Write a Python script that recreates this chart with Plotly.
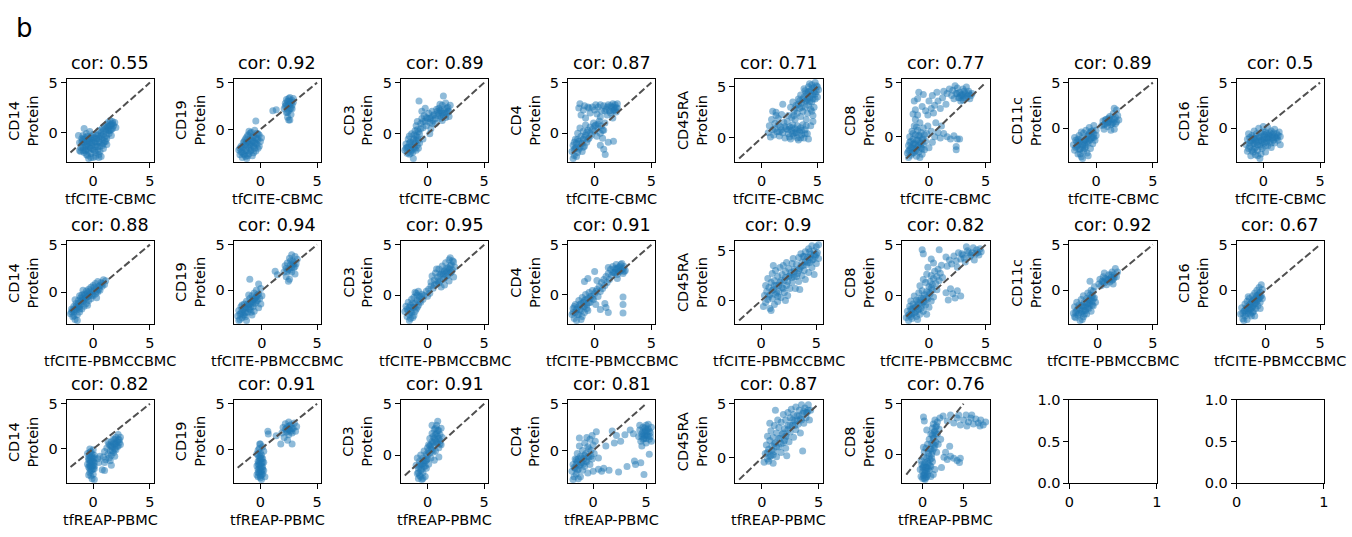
import plotly.graph_objects as go

W, H = 1352, 537
FONT = "DejaVu Sans"
BLUE = "#1f77b4"

MARKERS = ["CD14", "CD19", "CD3", "CD4", "CD45RA", "CD8", "CD11c", "CD16"]
SOURCES = ["tfCITE-CBMC", "tfCITE-PBMCCBMC", "tfREAP-PBMC"]
COR_R1 = [0.55, 0.92, 0.89, 0.87, 0.71, 0.77, 0.89, 0.5]
COR_R2 = [0.88, 0.94, 0.95, 0.91, 0.9, 0.82, 0.92, 0.67]
COR_R3 = [0.82, 0.91, 0.91, 0.81, 0.87, 0.76]
DIAG = [-2, 5]
TICKS = [0, 5]
EMPTY_XTICKS = [0, 1]
EMPTY_YTICKS = [0.0, 0.5, 1.0]

# ---------------- Row 1: tfCITE-CBMC ----------------
R1_CD14 = [(-1.2,-1.0),(-1.1,-1.5),(-1.0,-0.6),(-1.0,-1.2),(-0.9,-1.8),(-0.9,-0.3),(-0.8,-1.0),(-0.8,-2.0),(-0.7,-0.5),(-0.7,-1.4),
           (-0.6,-0.1),(-0.6,-0.9),(-0.6,-1.7),(-0.5,-2.3),(-0.5,-0.4),(-0.5,-1.2),(-0.4,-0.7),(-0.4,-1.9),(-0.3,0.1),(-0.3,-1.0),
           (-0.3,-1.5),(-0.2,-0.4),(-0.2,-2.1),(-0.1,-0.8),(-0.1,-1.3),(0.0,-0.2),(0.0,-1.7),(0.1,-1.0),(0.1,-0.5),(0.2,-1.4),
           (0.2,-2.4),(-0.4,-2.6),(0.0,-2.5),(-1.3,-0.3),(-0.8,0.4),(-1.2,-1.8),
           (0.3,-0.6),(0.3,-1.2),(0.4,-0.2),(0.4,-1.8),(0.5,-0.9),(0.5,0.2),(0.6,-0.4),(0.6,-1.4),(0.7,0.0),(0.7,-2.4),
           (0.8,-0.7),(0.8,0.4),(0.9,-0.2),(0.9,-1.1),(1.0,0.6),(1.0,-0.5),(1.1,0.1),(1.1,-0.9),(1.2,0.8),(1.2,-0.3),
           (1.3,0.3),(1.3,1.0),(1.4,-0.1),(1.4,0.6),(1.5,1.2),(1.5,0.2),(1.6,0.8),(1.6,-0.3),(1.7,0.4),(1.7,1.1),
           (1.8,0.7),(0.5,-2.2),(0.9,-1.6),(1.2,-1.2),(1.9,1.0),(2.0,0.5),
           (-1.0,-0.9),(-0.9,-1.5),(-0.8,-0.7),(-0.7,-1.8),(-0.6,-1.3),(-0.5,-0.8),(-0.4,-1.4),(-0.3,-0.6),(-0.2,-1.6),(-0.1,-1.0),
           (0.0,-0.6),(0.1,-1.8),(0.2,-0.9),(0.3,-0.3),(0.4,-1.4),(0.5,-0.6),(0.6,-1.0),(0.7,-0.3),(0.8,-1.3),(0.9,0.2),
           (1.0,-0.9),(1.1,0.4),(1.2,-0.6),(1.3,0.6),(1.4,0.2),(1.5,0.7),(1.6,0.3),(1.7,0.9),(-0.9,-0.7),(-0.6,-2.2),
           (0.2,-2.0),(0.6,-1.9),(-1.1,-1.9),(-0.2,-2.5),(0.5,-2.5)]
R1_CD19 = [(-1.9,-2.2),(-1.8,-2.7),(-1.7,-1.8),(-1.6,-2.4),(-1.6,-3.0),(-1.5,-1.4),(-1.5,-2.0),(-1.4,-2.7),(-1.3,-1.0),(-1.3,-1.7),
           (-1.2,-2.3),(-1.2,-3.1),(-1.1,-1.3),(-1.1,-0.6),(-1.0,-2.0),(-1.0,-2.6),(-0.9,-1.0),(-0.9,-1.6),(-0.8,-0.3),(-0.8,-2.2),
           (-0.7,-1.2),(-0.7,-2.8),(-0.6,-0.7),(-0.6,-1.8),(-0.5,-0.1),(-0.5,-1.4),(-0.4,-2.3),(-0.4,-0.9),(-0.3,-1.6),(-0.3,-0.4),
           (-0.2,-1.1),(-0.2,-2.0),(-0.1,-0.6),(0.0,-1.3),(0.1,-0.9),(-1.4,-1.2),(-1.0,-0.2),(-0.6,-2.5),(-1.7,-2.4),(-0.8,-1.4),
           (-1.8,-2.0),(-1.5,-2.6),(-1.4,-1.6),(-1.3,-2.2),(-1.2,-1.4),(-1.1,-2.8),(-1.0,-1.6),(-0.9,-2.3),(-0.8,-1.8),(-0.7,-0.8),
           (-0.6,-1.3),(-0.5,-2.0),(-0.4,-1.5),(-0.3,-1.0),(-0.2,-0.5),(-0.1,-1.8),(-1.6,-1.9),(-1.3,-2.9),(-0.9,-0.4),(-1.2,-0.8),
           (-0.4,0.9),(1.1,2.0),(1.4,2.1),(2.5,1.0),
           (2.1,2.2),(2.2,2.8),(2.3,1.8),(2.3,3.2),(2.4,2.5),(2.4,1.3),(2.5,3.0),(2.5,2.0),(2.6,2.7),(2.6,3.4),
           (2.7,2.3),(2.7,1.6),(2.8,3.1),(2.8,2.6),(2.9,2.9),(2.2,2.5),(2.6,1.0),(2.9,3.3),
           (2.3,2.6),(2.4,3.0),(2.5,2.6),(2.6,2.2),(2.7,2.9),(2.5,3.3),(2.8,2.2),(2.4,1.8)]
R1_CD3 = [(-2.0,-1.6),(-1.9,-1.0),(-1.8,-1.9),(-1.7,-0.5),(-1.7,-1.3),(-1.6,-2.0),(-1.5,-0.8),(-1.5,-1.5),(-1.4,0.0),(-1.4,-1.1),
          (-1.3,-1.8),(-1.2,-0.5),(-1.2,-1.3),(-1.1,0.3),(-1.1,-0.9),(-1.0,-1.6),(-1.0,-0.2),(-0.9,-1.1),(-0.9,0.4),(-0.8,-0.6),
          (-0.8,-1.4),(-0.7,0.0),(-0.7,-0.9),(-1.25,-2.4),(-1.6,-0.2),(-1.9,-1.4),
          (-1.8,-1.3),(-1.6,-0.9),(-1.4,-1.6),(-1.3,-0.8),(-1.1,-1.4),(-1.0,-0.6),(-0.9,-0.3),(-0.8,0.2),(-1.2,-0.1),(-1.5,-1.9),
          (-0.6,1.0),(-0.5,1.5),(-0.4,0.6),(-0.3,1.8),(-0.2,1.2),(-0.1,0.8),(0.0,1.5),(0.1,2.0),(0.2,1.1),(0.3,1.6),
          (0.4,2.2),(0.5,1.3),(0.6,1.9),(0.7,1.0),(-0.5,2.2),(-0.2,2.5),(0.3,0.5),(0.8,2.4),(-0.9,1.2),(-1.0,0.8),
          (-0.4,1.2),(-0.1,1.6),(0.2,1.5),(0.5,1.8),(0.7,1.5),(0.4,1.0),(-0.6,0.5),
          (0.9,1.8),(1.0,2.5),(1.1,1.5),(1.2,2.2),(1.3,2.8),(1.4,1.8),(1.5,2.4),(1.6,3.0),(1.7,2.0),(1.8,2.6),
          (1.9,2.2),(1.3,1.3),(1.6,1.6),(2.0,2.8),(1.1,2.9),(1.9,1.7),
          (1.0,2.0),(1.1,2.3),(1.3,2.0),(1.5,2.0),(1.7,2.5),(1.8,2.2),(1.2,1.7),(0.9,2.2),
          (-0.75,3.2),(1.4,3.7),(-0.4,-0.5),(0.2,0.0)]
R1_CD4 = [(-2.0,-1.8),(-1.9,-1.2),(-1.8,-2.2),(-1.7,-0.6),(-1.7,-1.5),(-1.6,-1.0),(-1.5,-1.9),(-1.5,0.0),(-1.4,-0.8),(-1.3,-1.4),
          (-1.3,0.5),(-1.2,-0.3),(-1.1,-1.0),(-1.1,-1.8),(-1.0,0.2),(-1.0,-0.6),(-0.9,-1.3),(-0.8,0.8),(-0.8,-0.2),(-0.7,-0.9),
          (-0.6,0.3),(-0.5,-0.5),(-0.4,0.6),(-0.3,-0.2),(-0.2,0.4),(-0.1,1.0),(-1.9,-2.5),(-1.6,-2.3),
          (-1.8,-1.6),(-1.6,-1.4),(-1.5,-0.6),(-1.4,-1.6),(-1.2,-1.0),(-1.0,-1.4),(-0.9,-0.4),(-0.7,0.1),(-0.6,-0.6),(-0.4,0.0),
          (-1.8,-0.9),
          (0.0,0.2),(0.1,0.8),(0.2,-0.3),(0.3,0.5),(0.4,1.2),(0.5,0.0),(0.6,0.7),(0.7,-0.5),(0.8,0.3),(0.9,1.0),
          (0.5,1.6),(0.2,1.9),(0.3,0.9),(0.7,0.3),(0.0,0.7),
          (-1.4,2.5),(-1.2,1.8),(-1.0,2.3),(-0.8,1.5),(-0.6,2.6),(-0.4,2.0),(-0.2,2.6),(0.0,2.3),(0.3,2.6),(0.6,2.2),
          (0.8,2.7),(1.0,2.4),(1.2,2.8),(1.3,2.2),(1.5,2.6),(1.6,2.9),(1.7,2.3),(1.8,2.8),(1.9,2.5),(2.0,2.9),
          (1.1,1.8),(1.4,2.0),(1.6,1.5),(1.9,2.1),
          (-1.3,2.9),(-0.9,2.7),(-0.5,2.5),(0.1,2.8),(0.5,2.8),(0.9,2.2),(1.1,2.6),(1.4,2.7),(1.7,2.6),(1.8,2.3),
          (2.0,2.5),(1.6,2.2),
          (0.8,-1.6),(0.93,-2.1),(1.66,-0.8),(1.2,-0.9),(0.5,-1.2)]
R1_CD45RA = [(2.4,2.2),(2.6,3.0),(2.7,2.0),(2.8,3.5),(2.9,2.6),(3.0,1.8),(3.1,3.2),(3.2,2.4),(3.3,3.8),(3.4,2.9),
             (3.5,2.1),(3.5,4.2),(3.6,3.4),(3.7,2.6),(3.8,4.0),(3.9,3.0),(3.9,4.6),(4.0,3.6),(4.1,2.4),(4.1,4.3),
             (4.2,5.0),(4.2,3.2),(4.3,3.9),(4.4,4.6),(4.4,2.8),(4.5,5.2),(4.5,3.5),(4.6,4.2),(4.7,4.9),(4.7,3.0),
             (4.8,5.4),(4.8,3.8),(4.9,4.5),(5.0,5.0),(5.0,4.0),(5.1,4.7),(4.3,5.3),(3.8,4.8),(4.6,2.2),(4.0,1.8),
             (3.0,2.9),(3.3,3.3),(3.6,3.0),(3.9,3.6),(4.1,3.8),(4.2,4.5),(4.4,4.1),(4.5,4.8),(4.6,3.8),(4.8,4.3),
             (4.9,5.1),(4.7,4.5),(4.3,3.5),(4.0,4.4),(3.7,3.8),(3.4,3.6),(2.9,2.2),(4.5,2.6),(4.6,1.6),(4.4,1.2),
             (0.6,0.5),(0.7,1.2),(0.8,0.1),(0.9,1.8),(1.0,0.8),(1.1,0.3),(1.2,1.4),(1.3,2.2),(1.4,0.6),(1.5,1.9),
             (1.6,0.2),(1.7,1.1),(1.8,2.3),(1.9,0.5),(2.0,1.5),(2.1,0.0),(2.2,0.9),(2.3,1.6),(2.4,0.4),(2.5,1.1),
             (2.6,-0.1),(2.7,0.7),(2.8,1.3),(2.9,0.2),(3.0,0.9),(3.1,0.5),(3.2,1.2),(3.3,-0.2),(3.4,0.6),(3.5,1.0),
             (3.6,0.3),(3.7,1.3),(3.8,0.0),(3.9,0.8),(4.0,1.2),(4.1,0.4),(4.2,-0.1),(3.2,0.0),(2.8,0.4),
             (1.2,0.9),(1.5,1.3),(1.8,0.8),(2.1,1.1),(2.4,0.8),(2.7,1.0),(3.0,0.5),(3.3,0.8),(3.6,0.7),(3.9,0.4),
             (2.5,0.1),(1.6,0.6),(3.5,0.0),
             (1.9,3.3),(1.0,2.6),(1.3,2.5)]
R1_CD8 = [(-1.9,-1.5),(-1.8,-0.8),(-1.8,-1.9),(-1.7,0.0),(-1.7,-1.2),(-1.6,-0.4),(-1.6,-1.7),(-1.5,0.5),(-1.5,-1.0),(-1.4,-0.2),
          (-1.4,-1.5),(-1.3,1.0),(-1.3,-0.6),(-1.2,0.2),(-1.2,-1.3),(-1.1,-1.8),(-1.1,-0.3),(-1.0,0.6),(-1.0,-0.9),(-0.9,0.1),
          (-0.9,-1.4),(-0.8,-0.5),(-0.8,1.3),(-0.7,-1.0),(-0.7,0.4),(-0.6,-0.2),(-0.6,-1.6),(-0.5,0.8),(-0.5,-0.7),(-0.4,-1.2),
          (-0.4,0.2),(-0.3,-0.4),(-1.2,1.6),(-1.0,2.0),(-0.8,-1.9),
          (-1.8,-1.3),(-1.6,-1.0),(-1.5,-1.5),(-1.4,-0.7),(-1.3,-1.1),(-1.2,-0.7),(-1.1,-1.2),(-1.0,-0.3),(-0.9,-0.8),(-0.8,0.1),
          (-0.7,-0.6),(-0.6,-1.1),(-0.5,-0.2),(-1.4,0.3),(-1.1,0.9),(-1.7,-0.5),
          (-1.2,2.5),(-1.3,3.3),(-1.0,3.5),(-0.6,2.8),(-0.5,3.9),(-0.9,4.1),(-0.3,2.4),(0.0,3.3),(0.2,2.6),(0.3,3.8),
          (0.5,2.9),(0.7,4.1),(0.8,3.3),(1.0,2.6),(1.2,3.6),(1.3,4.2),(1.5,3.0),(1.6,4.0),(-1.4,2.1),(-0.1,2.0),(0.4,2.2),
          (2.0,3.8),(2.1,4.3),(2.2,3.5),(2.4,4.0),(2.5,4.5),(2.6,3.6),(2.7,4.1),(2.8,3.3),(2.9,3.9),(3.0,4.4),
          (3.1,3.6),(3.2,4.0),(3.3,4.6),(3.4,3.8),(3.5,4.2),(3.6,3.5),(3.8,4.0),(2.3,4.7),(3.0,3.4),(1.8,4.4),
          (2.5,4.0),(2.8,3.8),(3.1,4.2),(3.3,3.6),(3.5,4.0),(2.7,3.6),(3.0,3.8),(3.7,3.8),
          (-0.2,0.3),(0.2,0.5),(0.5,0.0),(0.8,0.4),(1.0,-0.1),(1.3,0.3),(1.6,0.0),(1.9,-0.2),(2.2,0.1),(2.5,-0.2),
          (2.7,-0.2),(2.4,-0.9),(2.4,-1.2),(0.3,-0.5),(0.0,-1.0),(-0.1,1.0),(0.6,1.3),(1.1,1.0)]
R1_CD11c = [(-2.0,-1.8),(-1.9,-2.4),(-1.8,-1.3),(-1.7,-2.0),(-1.6,-2.8),(-1.5,-1.5),(-1.5,-0.8),(-1.4,-2.3),(-1.3,-1.1),(-1.3,-3.1),
            (-1.2,-1.8),(-1.1,-0.5),(-1.1,-2.5),(-1.0,-1.3),(-0.9,-2.0),(-0.9,-0.2),(-0.8,-0.9),(-0.8,-2.7),(-0.7,-1.6),(-0.6,0.1),
            (-0.6,-0.6),(-0.5,-1.2),(-0.5,-2.2),(-0.4,-0.3),(-0.3,-1.0),(-0.3,-1.7),(-0.2,0.3),(-0.2,-0.6),(-0.1,-1.3),(0.0,-0.2),
            (0.0,-0.8),(-1.2,-3.3),(-1.6,-1.2),(-0.7,-3.0),(-1.0,-2.2),(-1.9,-1.0),(-1.3,-0.4),
            (-1.8,-2.1),(-1.6,-1.8),(-1.5,-2.3),(-1.4,-1.6),(-1.2,-2.1),(-1.1,-1.4),(-1.0,-1.8),(-0.9,-1.2),(-0.8,-1.5),(-0.7,-0.8),
            (-0.6,-1.3),(-0.5,-0.4),(-0.4,-1.0),(-0.3,-0.3),(-0.2,-1.0),(-1.4,-2.8),(-1.7,-1.5),
            (0.5,0.3),(0.6,0.8),(0.7,-0.1),(0.8,0.5),(0.9,1.0),(1.0,0.2),(1.1,0.7),(1.2,1.3),(1.3,0.4),(1.4,1.0),
            (1.5,0.6),(1.5,1.6),(1.6,-0.1),(1.7,1.2),(1.8,0.7),(1.8,2.0),(1.9,1.4),(2.0,0.9),(1.3,-0.2),(1.6,2.2),
            (0.8,0.9),(1.0,0.6),(1.2,0.9),(1.4,0.5),(1.6,1.0),(1.7,0.5),(1.1,1.1),(0.7,0.4)]
R1_CD16 = [(-1.5,-1.8),(-1.4,-1.2),(-1.4,-2.5),(-1.3,-0.6),(-1.2,-2.0),(-1.1,-1.4),(-1.1,-3.0),(-1.0,-0.8),(-1.0,-2.4),(-0.9,-1.7),
           (-0.8,-0.3),(-0.8,-1.1),(-0.7,-2.1),(-0.7,-2.9),(-0.6,-0.6),(-0.6,-1.5),(-0.5,-2.4),(-0.4,-1.0),(-0.4,0.0),(-0.3,-1.8),
           (-0.3,-3.3),(-0.2,-0.5),(-0.2,-1.3),(-0.1,-2.2),(0.0,-0.9),(0.0,0.2),(0.1,-1.6),(0.2,-0.4),(0.2,-2.6),(0.3,-1.1),
           (0.4,-1.9),(0.4,0.1),(0.5,-0.7),(0.6,-1.4),(0.7,-0.3),(0.7,-2.1),(0.8,-1.0),(0.9,-0.5),(1.0,-1.6),(1.0,-0.1),
           (1.1,-1.0),(1.2,-0.6),(1.3,-1.3),(1.4,-0.4),(1.5,-0.9),(1.5,-1.8),(-0.9,-2.6),(-0.5,-3.0),(0.3,-0.6),(-1.2,-1.0),
           (-0.6,-1.1),(0.1,-1.2),(0.6,-0.9),
           (-1.2,-1.6),(-1.0,-1.3),(-0.9,-1.0),(-0.8,-1.7),(-0.7,-1.3),(-0.5,-1.8),(-0.4,-1.4),(-0.3,-0.9),(-0.2,-2.0),(-0.1,-1.5),
           (0.0,-1.2),(0.1,-0.7),(0.2,-1.9),(0.3,-1.5),(0.4,-1.0),(0.5,-1.2),(0.6,-0.5),(0.7,-1.6),(0.8,-0.7),(0.9,-1.3),
           (1.0,-0.9),(1.2,-1.1),(1.3,-0.8),(-1.3,-2.2),(-0.8,-2.3),(-0.2,-2.8),(0.0,-0.4)]

# ---------------- Row 2: tfCITE-PBMCCBMC ----------------
R2_CD14 = [(-2.0,-2.3),(-1.9,-1.8),(-1.8,-2.6),(-1.7,-1.5),(-1.7,-2.1),(-1.6,-2.9),(-1.5,-1.2),(-1.5,-1.9),(-1.4,-2.4),(-1.3,-0.9),
           (-1.3,-1.6),(-1.2,-2.1),(-1.1,-0.6),(-1.1,-1.3),(-1.0,-1.8),(-1.0,-0.3),(-0.9,-1.0),(-0.8,-1.5),(-0.8,-0.2),(-0.7,-0.7),
           (-0.6,-1.2),(-0.6,0.1),(-0.5,-0.5),(-0.4,-0.9),(-0.4,0.3),(-0.3,-0.2),(-0.2,-0.7),(-0.2,0.5),(-0.1,0.0),(0.0,-0.4),
           (0.0,0.7),(0.1,0.2),(0.2,-0.2),(0.2,0.9),(0.3,0.4),(0.4,0.0),(0.4,1.1),(0.5,0.6),(0.6,0.2),(0.7,1.0),
           (0.8,0.6),(0.9,1.3),(1.0,0.8),(1.1,1.2),(-1.2,-0.4),(-0.9,0.2),(-1.6,-0.8),(-1.4,-3.0),(-0.5,-1.4),(0.3,-0.6),
           (-1.9,-2.1),(-1.8,-1.9),(-1.6,-1.8),(-1.5,-1.5),(-1.4,-1.6),(-1.3,-1.2),(-1.2,-1.5),(-1.1,-1.0),(-1.0,-0.9),(-0.9,-0.6),
           (-0.8,-0.8),(-0.7,-0.3),(-0.6,-0.5),(-0.5,-0.1),(-0.4,-0.4),(-0.3,0.1),(-0.1,-0.3),(0.1,0.5),(0.3,0.1),(0.5,0.3),
           (0.6,0.7),(0.8,0.9),(-1.7,-2.5),(-1.2,-1.8)]
R2_CD19 = [(-2.2,-2.8),(-2.1,-2.2),(-2.0,-3.2),(-1.9,-2.5),(-1.9,-1.8),(-1.8,-3.0),(-1.7,-2.1),(-1.6,-1.5),(-1.6,-2.7),(-1.5,-2.0),
           (-1.4,-1.2),(-1.4,-3.3),(-1.3,-2.4),(-1.2,-1.6),(-1.1,-0.9),(-1.1,-2.1),(-1.0,-1.3),(-0.9,-2.7),(-0.9,-0.6),(-0.8,-1.8),
           (-0.8,-1.0),(-0.7,-0.3),(-0.7,-2.3),(-0.6,-1.4),(-0.5,-0.7),(-0.5,0.0),(-0.4,-1.1),(-0.3,-1.9),(-0.3,-0.4),(-0.2,-0.9),
           (-0.1,0.2),(-0.1,-1.5),(0.0,-0.6),(-2.1,-3.3),(-1.5,-2.9),(-1.2,-0.5),
           (-2.0,-2.6),(-1.8,-2.3),(-1.7,-2.7),(-1.6,-1.9),(-1.5,-2.4),(-1.4,-1.8),(-1.3,-1.5),(-1.2,-2.0),(-1.1,-1.5),(-1.0,-1.8),
           (-0.9,-1.2),(-0.8,-1.4),(-0.7,-1.0),(-0.6,-0.8),(-0.5,-1.2),(-0.4,-0.5),(-1.0,-2.4),(-1.8,-1.6),
           (-1.1,1.2),(-0.3,0.7),(1.2,2.1),(1.4,1.7),
           (2.0,2.0),(2.1,2.7),(2.2,1.5),(2.3,3.0),(2.4,2.3),(2.5,3.5),(2.5,1.2),(2.6,2.8),(2.7,2.0),(2.8,3.2),
           (2.9,2.5),(3.0,3.7),(3.0,1.8),(3.1,2.9),(3.2,3.4),(2.4,1.0),(2.7,3.9),(2.2,2.4),
           (2.5,2.2),(2.7,2.5),(2.8,2.8),(3.0,2.6),(2.6,3.2),(2.9,3.0),(2.3,2.1)]
R2_CD3 = [(-2.0,-1.6),(-1.9,-1.1),(-1.8,-2.1),(-1.7,-0.7),(-1.7,-1.5),(-1.6,-2.5),(-1.5,-1.0),(-1.4,-0.4),(-1.4,-1.7),(-1.3,-1.2),
          (-1.2,-0.2),(-1.2,-2.0),(-1.1,-0.8),(-1.0,-1.4),(-1.0,0.2),(-0.9,-0.5),(-0.8,-1.0),(-0.8,0.4),(-0.7,-0.2),(-0.6,-0.7),
          (-0.5,0.1),(-0.4,-0.4),(-1.5,-2.3),(-1.1,0.3),
          (-1.8,-1.4),(-1.6,-1.2),(-1.5,-1.6),(-1.3,-0.8),(-1.2,-1.2),(-1.1,-1.6),(-0.9,-1.2),(-0.9,0.0),(-0.7,-0.6),(-0.6,-0.1),
          (-1.6,-1.9),(-1.3,-2.2),
          (-0.3,0.0),(-0.1,0.4),(0.0,-0.1),(0.1,0.6),(0.2,0.2),(0.3,0.9),
          (0.3,1.3),(0.4,1.9),(0.5,0.7),(0.6,1.5),(0.7,2.2),(0.8,1.1),(0.9,1.8),(1.0,2.6),(1.1,1.4),(1.2,2.1),
          (1.3,2.9),(1.4,1.6),(1.5,2.4),(1.6,3.2),(1.7,1.9),(1.8,2.7),(1.9,3.5),(1.9,1.4),(2.0,2.2),(2.1,3.0),
          (2.2,2.5),(2.3,3.3),(2.3,1.8),(2.0,3.7),(1.5,1.0),(2.4,2.8),(1.2,0.8),(0.8,2.6),
          (0.9,1.4),(1.1,2.0),(1.3,2.3),(1.5,1.7),(1.6,2.6),(1.7,2.3),(1.8,2.0),(1.9,2.6),(2.0,2.9),(2.1,2.3),
          (2.2,3.4),(1.4,2.1),(1.0,1.2),(0.6,1.0)]
R2_CD4 = [(-2.0,-2.0),(-1.9,-1.4),(-1.8,-2.4),(-1.7,-1.0),(-1.7,-1.8),(-1.6,-2.6),(-1.5,-1.3),(-1.4,-0.6),(-1.4,-2.0),(-1.3,-1.5),
          (-1.2,-0.9),(-1.1,-2.2),(-1.1,-0.3),(-1.0,-1.2),(-0.9,-1.8),(-0.9,-0.6),(-0.8,0.0),(-0.7,-1.0),(-0.6,-0.4),(-0.6,-1.6),
          (-0.5,0.2),(-0.4,-0.8),(-0.3,-0.2),(-0.2,0.4),(-0.1,-0.5),(0.0,0.1),(0.1,-1.0),(0.2,0.5),(0.3,-0.2),(-1.2,-2.5),
          (-1.9,-1.8),(-1.8,-1.2),(-1.6,-1.5),(-1.5,-2.0),(-1.3,-1.0),(-1.2,-1.6),(-1.0,-0.8),(-0.9,-1.2),(-0.8,-0.5),(-0.7,-1.4),
          (-0.5,-0.8),(-0.4,-0.2),(-0.2,-0.4),(0.1,0.3),
          (0.4,0.8),(0.5,0.3),(0.6,1.2),(0.7,0.6),(0.8,1.5),(0.9,0.9),(1.0,1.8),(1.1,1.2),(1.2,2.1),(1.3,1.5),
          (1.4,2.5),(1.5,1.9),(1.6,2.8),(1.7,2.2),(1.8,2.6),(1.9,3.0),(2.0,2.0),(2.1,2.7),(2.2,2.3),(2.3,3.0),
          (2.4,2.5),(2.5,2.1),(2.6,2.8),(2.7,2.4),(2.0,1.6),(2.4,3.1),(1.2,2.7),(0.2,1.4),
          (1.8,2.2),(2.0,2.6),(2.1,2.3),(2.2,2.8),(2.3,2.4),(2.5,2.6),(2.6,2.3),(1.6,2.2),(1.9,2.5),
          (-0.9,1.3),(-0.6,1.6),(0.0,2.3),(0.9,-0.9),(1.2,-1.8),(2.5,-0.25),(2.5,-1.0),(2.5,-1.85),(1.0,-1.3),(0.5,-1.5)]
R2_CD45RA = [(0.2,-0.6),(0.3,0.5),(0.4,1.5),(0.4,-0.2),(0.5,0.9),(0.6,2.2),(0.6,0.1),(0.7,1.3),(0.8,-0.8),(0.8,0.6),
             (0.9,1.8),(1.0,0.2),(1.0,2.7),(1.1,1.1),(1.2,-0.4),(1.2,2.0),(1.3,0.6),(1.3,3.0),(1.4,1.5),(1.5,-0.1),
             (1.5,2.4),(1.6,0.9),(1.7,1.8),(1.7,3.3),(1.8,0.3),(1.9,2.6),(1.9,1.3),(2.0,3.5),(2.1,0.8),(2.1,2.0),
             (2.2,2.9),(2.3,1.5),(2.3,3.8),(2.4,0.5),(2.5,2.4),(2.5,3.2),(2.6,1.2),(2.7,2.8),(2.8,3.7),(2.8,1.8),
             (2.9,4.2),(3.0,2.4),(3.0,3.1),(3.1,1.2),(3.2,3.6),(3.3,2.7),(3.4,4.3),(3.4,1.9),(3.5,3.2),(3.6,4.7),
             (3.7,2.5),(3.7,3.8),(3.8,4.4),(3.9,3.0),(4.0,4.9),(4.0,2.1),(4.1,3.6),(4.2,4.3),(4.3,5.2),(4.3,2.8),
             (4.4,3.8),(4.5,4.6),(4.6,5.5),(4.6,3.3),(4.7,4.1),(4.8,5.0),(4.9,4.4),(5.0,5.4),(5.0,3.7),(5.1,4.8),
             (5.2,5.6),(5.2,4.2),(4.8,2.6),(1.1,3.5),(0.9,-1.0),(2.2,0.0),(3.5,1.1),
             (1.0,1.0),(1.2,1.5),(1.4,0.8),(1.6,1.5),(1.8,2.0),(2.0,1.2),(2.2,2.3),(2.4,1.9),(2.6,2.5),(2.8,2.3),
             (3.0,2.9),(3.2,2.4),(3.4,3.0),(3.6,3.4),(3.8,3.5),(4.0,3.9),(4.2,3.8),(4.4,4.3),(4.6,4.0),(4.8,4.6),
             (5.0,4.6),(0.7,0.4),(1.5,0.4),(3.9,4.4),(4.4,4.9)]
R2_CD8 = [(-2.0,-2.1),(-1.9,-1.5),(-1.8,-2.4),(-1.7,-1.0),(-1.7,-1.8),(-1.6,-0.5),(-1.5,-1.4),(-1.5,-2.2),(-1.4,-0.8),(-1.3,-1.7),
          (-1.3,0.0),(-1.2,-1.1),(-1.1,-2.0),(-1.1,-0.4),(-1.0,-1.4),(-0.9,0.3),(-0.9,-0.8),(-0.8,-1.8),(-0.7,-0.2),(-0.7,-1.2),
          (-0.6,0.5),(-0.5,-0.6),(-0.5,-1.5),(-0.4,0.1),(-0.3,-0.9),(-0.2,0.4),(-0.1,-0.3),(0.0,-1.1),(0.1,0.2),(0.2,-0.5),
          (0.3,0.6),(0.4,-0.1),(-1.0,-2.3),(-0.2,-1.8),
          (-1.8,-1.9),(-1.6,-1.3),(-1.5,-1.8),(-1.4,-1.2),(-1.2,-1.6),(-1.1,-1.0),(-1.0,-0.6),(-0.9,-1.3),(-0.8,-0.4),(-0.6,-0.9),
          (-0.5,-0.2),(-0.4,-0.6),(-0.2,-0.2),(-1.6,-2.0),(0.0,0.3),(0.2,0.8),
          (0.0,0.9),(0.1,1.4),(0.2,2.0),(0.3,1.1),(0.4,1.7),(0.5,2.4),(0.6,1.2),(0.7,1.9),(0.8,2.6),(0.9,1.5),
          (1.0,2.2),(1.1,3.0),(1.2,1.8),(-0.3,1.3),(-0.2,2.1),(-0.5,1.6),(-0.1,2.8),(0.4,3.2),(0.7,0.6),
          (1.6,2.9),(1.8,3.5),(2.0,3.1),(2.2,3.9),(2.4,3.4),(2.6,4.2),(2.8,3.6),(3.0,4.0),(3.2,3.3),(3.4,4.4),
          (3.6,3.8),(3.8,4.2),(4.0,3.5),(4.2,4.5),(4.4,4.0),(4.6,4.3),(3.3,4.8),(2.5,2.8),(1.5,3.8),(3.9,4.7),
          (3.5,4.2),(3.7,4.0),(4.1,4.1),(4.3,4.2),(4.5,4.6),(3.1,3.7),(2.9,4.1),
          (-0.6,4.5),(-0.5,4.1),(0.9,4.5),(0.2,3.6),(1.9,0.7),(2.1,0.2),(2.3,-0.2),(2.5,0.5),(2.8,0.0),(1.7,-0.4),
          (1.5,0.3),(-0.8,1.0)]
R2_CD11c = [(-2.2,-2.5),(-2.1,-1.8),(-2.0,-3.0),(-1.9,-2.2),(-1.9,-1.3),(-1.8,-2.7),(-1.7,-1.6),(-1.6,-2.1),(-1.6,-3.3),(-1.5,-1.0),
            (-1.5,-2.5),(-1.4,-1.7),(-1.3,-2.9),(-1.3,-0.6),(-1.2,-1.3),(-1.2,-2.2),(-1.1,-1.8),(-1.0,-0.9),(-1.0,-2.6),(-0.9,-1.4),
            (-0.9,-0.3),(-0.8,-2.0),(-0.8,-1.0),(-0.7,-0.5),(-0.7,-1.6),(-0.6,0.0),(-0.6,-2.3),(-0.5,-1.2),(-0.5,-0.6),(-0.4,-0.1),
            (-0.4,-1.7),(-0.3,-0.8),(-0.3,0.4),(-0.2,-1.3),(-0.7,1.0),(-1.4,-3.2),(-2.1,-2.9),
            (-2.0,-2.4),(-1.8,-2.0),(-1.7,-2.5),(-1.5,-1.7),(-1.4,-2.3),(-1.3,-1.8),(-1.1,-2.2),(-1.0,-1.5),(-0.9,-1.9),(-0.8,-1.4),
            (-0.7,-1.1),(-0.6,-0.8),(-0.5,-1.6),(-0.4,-0.9),(-1.2,-2.6),
            (0.1,0.7),(0.2,1.2),(0.3,0.5),(0.4,1.0),(0.5,1.5),(0.6,0.8),(0.7,1.3),(0.8,0.6),(0.9,1.1),(1.0,1.7),
            (1.1,0.9),(1.2,1.4),(1.3,2.0),(1.4,1.2),(1.5,1.7),(1.6,2.4),(1.7,1.5),(1.8,2.0),(1.4,0.7),(0.6,1.9),
            (0.8,1.2),(1.0,1.2),(1.2,1.7),(1.3,1.1),(1.5,1.4),(0.5,0.9)]
R2_CD16 = [(-2.3,-2.6),(-2.2,-1.9),(-2.1,-3.1),(-2.0,-2.3),(-1.9,-1.5),(-1.9,-2.8),(-1.8,-2.0),(-1.7,-1.2),(-1.7,-3.2),(-1.6,-2.5),
           (-1.5,-1.6),(-1.5,-0.9),(-1.4,-2.1),(-1.3,-1.3),(-1.3,-2.8),(-1.2,-0.6),(-1.2,-1.8),(-1.1,-1.0),(-1.1,-2.3),(-1.0,-0.3),
           (-1.0,-1.5),(-0.9,-2.0),(-0.9,-0.8),(-0.8,-1.2),(-0.8,0.0),(-0.7,-0.5),(-0.7,-1.7),(-0.6,-0.9),(-0.6,0.3),(-0.5,-0.2),
           (-0.5,-1.3),(-0.4,-0.6),(-0.4,0.6),(-0.3,-0.9),(-0.3,0.1),(-1.6,-0.7),(-2.0,-3.3),(-1.0,-2.8),(-0.5,-2.0),
           (-2.1,-2.5),(-1.9,-2.2),(-1.8,-2.5),(-1.7,-1.8),(-1.6,-2.2),(-1.5,-2.0),(-1.4,-1.5),(-1.3,-1.9),(-1.2,-1.2),(-1.1,-1.6),
           (-1.0,-1.0),(-0.9,-1.4),(-0.8,-0.6),(-0.7,-1.0),(-0.6,-0.4),(-0.5,-0.7),(-1.4,-2.6),(-1.2,-2.4)]

# ---------------- Row 3: tfREAP-PBMC ----------------
R3_CD14 = [(-0.5,-0.5),(-0.4,-1.2),(-0.4,-2.0),(-0.3,0.0),(-0.3,-0.8),(-0.3,-1.6),(-0.3,-2.6),(-0.2,-0.3),(-0.2,-1.0),(-0.2,-1.9),
           (-0.2,-3.0),(-0.1,-0.6),(-0.1,-1.4),(-0.1,-2.3),(0.0,-0.1),(0.0,-1.1),(0.0,-1.8),(0.0,-2.8),(0.1,-0.7),(0.1,-1.5),
           (0.1,-2.2),(-0.4,-2.9),(-0.1,-3.3),(-0.5,-1.7),(0.1,-3.4),(-0.3,-0.4),
           (-0.4,-1.0),(-0.3,-1.9),(-0.2,-1.4),(-0.2,-2.4),(-0.1,-0.9),(-0.1,-1.9),(0.0,-1.4),(0.0,-2.2),(0.1,-1.0),(0.1,-1.9),
           (-0.3,-1.2),(-0.3,-2.2),
           (0.4,-1.1),(0.6,-0.8),(0.5,-1.5),
           (0.9,-0.9),(1.0,-0.3),(1.1,-1.2),(1.2,0.1),(1.3,-0.6),(1.4,0.5),(1.4,-1.0),(1.5,-0.2),(1.6,0.8),(1.6,-0.7),
           (1.7,0.2),(1.8,1.1),(1.8,-0.4),(1.9,0.5),(2.0,1.3),(2.0,-0.1),(2.1,0.8),(2.2,0.3),(2.2,1.6),(2.3,1.0),
           (2.4,0.5),(2.4,1.3),(1.3,0.8),(1.0,-1.5),(1.5,-1.3),(1.9,-0.8),
           (1.6,0.3),(1.8,0.6),(1.9,0.0),(2.0,0.6),(2.1,0.3),(2.2,1.0),(1.7,-0.2),(1.5,0.4),(2.3,0.7),(1.9,1.0),
           (0.8,-2.3),(1.0,-2.4),(1.6,-1.8)]
R3_CD19 = [(-0.3,-0.5),(-0.2,-1.3),(-0.2,-2.2),(-0.2,-3.0),(-0.1,0.1),(-0.1,-0.9),(-0.1,-1.7),(-0.1,-2.6),(0.0,-0.3),(0.0,-1.1),
           (0.0,-2.0),(0.0,-2.9),(0.1,-0.6),(0.1,-1.5),(0.1,-2.4),(0.1,-3.3),(0.2,-1.0),(0.2,-1.9),(0.2,-2.7),(0.3,-0.2),
           (0.3,-1.4),(0.3,-2.3),(-0.3,-1.8),(-0.3,-2.8),(0.0,0.6),(0.4,-3.0),(-0.2,-0.1),(0.2,0.3),
           (-0.2,-0.6),(-0.1,-1.3),(-0.1,-2.1),(0.0,-0.8),(0.0,-1.6),(0.0,-2.4),(0.1,-1.0),(0.1,-1.9),(0.1,-2.8),(0.2,-1.4),
           (0.2,-2.2),(-0.2,-1.6),(-0.2,-2.5),(0.0,-3.1),
           (0.66,2.0),(0.7,1.7),(1.4,1.5),(1.8,0.6),(-0.06,0.6),
           (1.9,1.8),(2.0,2.4),(2.1,1.3),(2.2,2.8),(2.3,1.9),(2.4,2.5),(2.5,1.6),(2.5,3.0),(2.6,2.1),(2.7,2.7),
           (2.8,1.8),(2.9,2.3),(3.0,2.9),(3.1,2.0),(3.2,2.5),(2.4,1.0),(2.8,0.6),(2.2,2.2),
           (2.3,2.3),(2.5,2.2),(2.6,2.6),(2.8,2.3),(2.7,2.0),(2.4,2.0)]
R3_CD3 = [(-1.0,-1.0),(-0.9,-1.8),(-0.9,-0.3),(-0.8,-2.3),(-0.8,-1.3),(-0.7,-0.6),(-0.7,-2.0),(-0.6,0.0),(-0.6,-1.5),(-0.5,-0.9),
          (-0.5,-2.4),(-0.4,-0.3),(-0.4,-1.7),(-0.3,0.4),(-0.3,-1.1),(-0.2,-0.6),(-0.2,-2.1),(-0.1,0.1),(-0.1,-1.3),(0.0,0.7),
          (0.0,-0.4),(0.1,-0.9),(0.1,1.0),(0.2,0.2),(0.2,1.6),(0.3,0.6),(0.3,-0.3),(0.4,1.3),(0.4,2.1),(0.5,0.3),
          (0.5,1.8),(0.6,0.9),(0.6,2.5),(0.7,1.5),(0.7,0.4),(0.8,2.1),(0.8,2.9),(0.9,1.1),(0.9,1.8),(1.0,2.4),
          (1.0,0.7),(1.1,1.4),(1.1,2.0),(1.2,1.0),(1.2,2.6),(1.3,1.7),(0.9,3.3),(0.4,2.9),(-0.4,-2.3),(1.0,-0.2),(0.6,-0.5),
          (-0.8,-1.7),(-0.7,-1.1),(-0.6,-0.9),(-0.5,-1.4),(-0.4,-0.8),(-0.3,-0.5),(-0.2,-1.1),(-0.1,-0.5),(0.0,0.0),(0.1,0.4),
          (0.2,0.9),(0.3,1.0),(0.4,0.5),(0.5,1.2),(0.6,1.6),(0.7,2.0),(0.8,1.3),(0.9,2.4),(1.0,1.6),(1.1,1.1),
          (0.7,2.6),(-0.6,-2.1)]
R3_CD4 = [(-2.0,-2.2),(-1.9,-1.5),(-1.8,-2.8),(-1.7,-0.9),(-1.7,-1.9),(-1.6,-2.5),(-1.5,-1.2),(-1.5,-0.3),(-1.4,-2.0),(-1.3,-1.6),
          (-1.3,0.5),(-1.2,-0.6),(-1.2,-2.8),(-1.1,-1.3),(-1.0,-2.1),(-1.0,0.0),(-0.9,-0.9),(-0.8,-1.7),(-0.8,0.8),(-0.7,-0.3),
          (-0.6,-1.2),(-0.5,0.4),(-0.5,-2.4),(-0.4,-0.7),(-0.3,1.2),(-0.3,-1.5),(-0.2,0.0),(-0.1,1.6),(-0.1,-0.9),(0.0,0.6),
          (0.1,-0.3),(0.2,1.0),(-0.6,1.4),(-1.4,-3.0),(-1.9,-3.1),(0.0,-2.2),
          (-1.8,-1.8),(-1.6,-1.5),(-1.5,-2.1),(-1.4,-0.9),(-1.2,-1.5),(-1.1,-0.8),(-0.9,-1.4),(-0.8,-0.5),(-0.7,-1.1),(-0.5,-0.6),
          (-0.4,0.2),(-0.2,-0.6),(-1.6,-1.0),
          (-1.3,1.35),(0.3,2.0),(0.5,-0.8),(0.8,-2.2),(0.5,-2.0),(1.0,-1.9),(1.8,2.1),(2.6,1.0),(2.2,1.6),(3.5,2.2),
          (2.0,0.8),(3.0,1.7),(3.2,-1.7),(3.9,-1.1),(4.5,-1.3),(4.8,-2.55),(5.3,-0.4),(1.5,-2.1),(2.4,-2.3),(1.2,0.5),
          (3.8,1.8),(4.0,-1.5),
          (4.3,1.5),(4.4,2.2),(4.5,1.0),(4.6,1.8),(4.7,2.5),(4.8,1.3),(4.9,2.0),(5.0,2.7),(5.0,0.8),(5.1,1.6),
          (5.2,2.3),(5.3,1.2),(5.4,1.9),(5.5,2.5),(5.5,1.0),(4.6,0.5),(5.2,2.8),(4.9,1.6),(4.4,2.7),(5.4,1.5),
          (4.6,1.5),(4.7,2.0),(4.8,1.7),(4.9,2.4),(5.0,1.3),(5.1,2.0),(5.2,1.5),(5.3,2.1),(5.0,2.2),(4.7,1.2)]
R3_CD45RA = [(0.2,-0.4),(0.3,0.4),(0.4,1.2),(0.5,-0.1),(0.5,2.0),(0.6,0.8),(0.7,1.6),(0.8,0.2),(0.8,2.5),(0.9,1.1),
             (1.0,-0.5),(1.0,1.9),(1.1,0.6),(1.1,3.0),(1.2,1.4),(1.3,2.3),(1.3,0.1),(1.4,3.5),(1.5,1.0),(1.5,2.8),
             (1.6,1.8),(1.7,0.5),(1.7,3.3),(1.8,2.2),(1.9,4.0),(1.9,1.4),(2.0,2.7),(2.1,3.5),(2.1,0.9),(2.2,2.0),
             (2.3,4.2),(2.3,3.0),(2.4,1.5),(2.5,3.7),(2.5,2.4),(2.6,4.5),(2.7,3.0),(2.8,1.9),(2.8,4.0),(2.9,3.4),
             (3.0,4.7),(3.0,2.6),(3.1,3.9),(3.2,3.1),(3.3,4.4),(3.4,2.3),(3.4,3.6),(3.5,4.9),(3.6,4.1),(3.7,3.2),
             (3.8,4.6),(3.9,3.7),(4.0,4.2),(4.1,4.9),(4.2,3.5),(4.3,4.4),(3.6,0.65),(0.7,3.2),(2.2,0.2),(1.2,4.4),
             (0.5,0.5),(0.7,0.1),(0.9,0.7),(1.1,1.3),(1.3,1.0),(1.5,1.8),(1.7,1.3),(1.9,2.3),(2.1,2.0),(2.3,2.6),
             (2.5,3.0),(2.7,3.5),(2.9,3.0),(3.1,3.5),(3.3,3.9),(3.5,3.5),(3.7,4.3),(3.9,4.2),(4.1,4.4),(1.0,0.3),
             (0.6,-0.3),(2.0,1.6)]
R3_CD8 = [(-0.3,-1.5),(-0.2,-2.2),(-0.2,-0.6),(-0.1,-1.0),(0.0,-2.4),(0.0,-1.7),(0.1,-0.3),(0.1,-1.2),(0.2,-2.0),(0.2,0.2),
          (0.3,-0.8),(0.3,-1.6),(0.4,-2.3),(0.4,0.6),(0.5,-0.4),(0.5,-1.3),(0.6,-2.0),(0.6,1.0),(0.7,0.1),(0.7,-0.9),
          (0.8,-1.6),(0.8,1.5),(0.9,0.5),(0.9,-0.5),(1.0,-2.2),(1.0,2.0),(1.0,-1.2),(1.1,1.1),(1.1,0.0),(1.2,2.6),
          (1.2,-0.7),(1.3,1.6),(1.3,3.0),(1.4,0.6),(1.4,2.2),(1.5,3.4),(1.5,-1.5),(1.6,1.2),(1.6,2.7),(1.7,0.2),
          (1.8,2.0),(1.8,3.2),(1.9,1.0),(2.0,2.5),(2.1,3.6),(0.1,3.7),(0.2,3.3),(0.5,2.4),(0.3,-2.5),(0.1,0.7),(1.3,-2.0),
          (0.0,-1.3),(0.1,-2.1),(0.2,-1.0),(0.3,-1.9),(0.4,-1.3),(0.5,-2.2),(0.6,-0.7),(0.7,-1.4),(0.8,-0.2),(0.9,-1.1),
          (1.0,0.5),(1.1,-0.4),(1.2,0.3),(1.3,1.0),(1.4,1.6),(1.5,2.3),(1.6,2.0),(1.7,2.8),(0.5,-1.7),(0.2,-2.4),
          (1.2,1.9),(1.5,0.9),
          (2.5,3.8),(3.0,3.3),(3.4,3.9),(3.8,3.1),(4.2,3.6),(4.6,2.9),(5.0,3.4),(5.3,3.9),(5.6,3.2),(5.9,3.6),
          (6.2,3.0),(6.5,3.5),(6.8,3.1),(7.1,3.4),(7.4,2.9),(7.7,3.2),(5.4,2.8),(4.4,3.9),(6.0,3.9),(7.0,2.8),
          (2.3,-1.3),(2.6,-0.3),(3.0,-0.5),(3.4,-0.2),(3.8,-0.4),(4.2,-0.6),(4.6,-0.4),(4.5,-0.8),(2.8,0.2),(3.3,0.8),(2.2,1.5)]

ROWS = [
    [R1_CD14, R1_CD19, R1_CD3, R1_CD4, R1_CD45RA, R1_CD8, R1_CD11c, R1_CD16],
    [R2_CD14, R2_CD19, R2_CD3, R2_CD4, R2_CD45RA, R2_CD8, R2_CD11c, R2_CD16],
    [R3_CD14, R3_CD19, R3_CD3, R3_CD4, R3_CD45RA, R3_CD8],
]
CORS = [COR_R1, COR_R2, COR_R3]

# ---------------- layout geometry (pixels) ----------------
COL_LEFT = [62 + 168.4 * i for i in range(8)]
PW = 88
ROW_TOP = [73, 240, 404]
PH = 86

fig = go.Figure()
annotations = []
layout = {}

def xd(px):
    return px / W

def yd(py):
    return 1 - py / H

axis_common = dict(
    showline=True, linecolor="black", linewidth=1, mirror=True,
    ticks="outside", ticklen=5, tickwidth=1, tickcolor="black",
    showgrid=False, zeroline=False,
    tickfont=dict(family=FONT, size=14.5, color="black"),
)

k = 0
for r in range(3):
    for c in range(8):
        k += 1
        sfx = "" if k == 1 else str(k)
        left = COL_LEFT[c]
        top = ROW_TOP[r]
        xa = dict(axis_common)
        ya = dict(axis_common)
        xa.update(domain=[xd(left), xd(left + PW)], anchor="y" + sfx)
        ya.update(domain=[yd(top + PH), yd(top)], anchor="x" + sfx)
        if c < len(ROWS[r]):
            pts = ROWS[r][c]
            xs = [p[0] for p in pts]
            ys = [p[1] for p in pts]
            fig.add_trace(go.Scatter(
                x=xs, y=ys, mode="markers", xaxis="x" + sfx, yaxis="y" + sfx,
                marker=dict(color=BLUE, size=7, opacity=0.5, line=dict(width=0)),
                showlegend=False, hoverinfo="skip"))
            fig.add_trace(go.Scatter(
                x=DIAG, y=DIAG, mode="lines", xaxis="x" + sfx, yaxis="y" + sfx,
                line=dict(color="#505050", width=2, dash="7px,3px"),
                showlegend=False, hoverinfo="skip"))
            xlo, xhi = min(min(xs), DIAG[0]), max(max(xs), DIAG[1])
            ylo, yhi = min(min(ys), DIAG[0]), max(max(ys), DIAG[1])
            px_ = 0.05 * (xhi - xlo)
            py_ = 0.05 * (yhi - ylo)
            xa.update(range=[xlo - px_, xhi + px_], tickvals=TICKS, ticktext=[str(t) for t in TICKS])
            ya.update(range=[ylo - py_, yhi + py_], tickvals=TICKS, ticktext=[str(t) for t in TICKS])
            cx = left + PW / 2
            annotations.append(dict(
                text=f"cor: {CORS[r][c]}", x=xd(cx), y=yd(top - 16), xref="paper", yref="paper",
                showarrow=False, xanchor="center", yanchor="middle",
                font=dict(family=FONT, size=17.5, color="black")))
            annotations.append(dict(
                text=SOURCES[r], x=xd(cx), y=yd(top + PH + 38), xref="paper", yref="paper",
                showarrow=False, xanchor="center", yanchor="middle",
                font=dict(family=FONT, size=14.5, color="black")))
            annotations.append(dict(
                text=f"{MARKERS[c]}<br>Protein", x=xd(left - 43), y=yd(top + PH / 2),
                xref="paper", yref="paper", showarrow=False, textangle=-90,
                xanchor="center", yanchor="middle",
                font=dict(family=FONT, size=14.5, color="black")))
        else:
            fig.add_trace(go.Scatter(x=[None], y=[None], xaxis="x" + sfx, yaxis="y" + sfx,
                                     showlegend=False, hoverinfo="skip"))
            xa.update(range=[0, 1], tickvals=EMPTY_XTICKS, ticktext=[str(t) for t in EMPTY_XTICKS])
            ya.update(range=[0, 1], tickvals=EMPTY_YTICKS, ticktext=[f"{t:.1f}" for t in EMPTY_YTICKS])
        layout["xaxis" + sfx] = xa
        layout["yaxis" + sfx] = ya

annotations.append(dict(
    text="b", x=xd(9), y=yd(21), xref="paper", yref="paper", showarrow=False,
    xanchor="left", yanchor="middle", font=dict(family=FONT, size=26, color="black")))

fig.update_layout(
    width=W, height=H,
    margin=dict(l=0, r=0, t=0, b=0),
    paper_bgcolor="white", plot_bgcolor="white",
    font=dict(family=FONT, color="black"),
    annotations=annotations,
    showlegend=False,
    **layout,
)

fig.write_html("out.html")
